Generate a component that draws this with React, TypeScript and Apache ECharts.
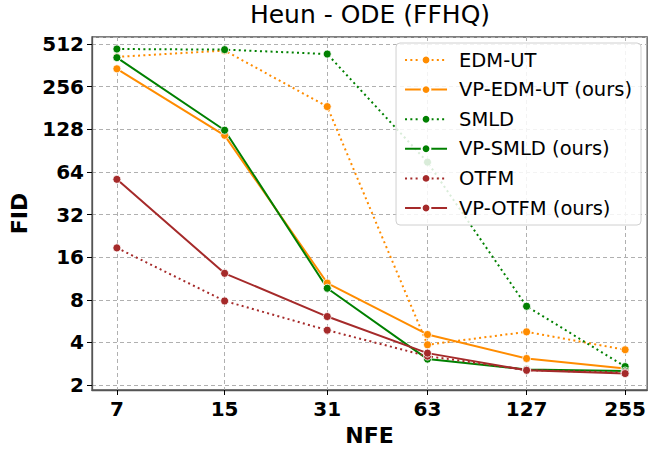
import React, { useEffect, useRef } from "react";
import * as echarts from "echarts";

const NFE = [7, 15, 31, 63, 127, 255];
const Y_TICKS = [2, 4, 8, 16, 32, 64, 128, 256, 512];

const EDM_UT = [415, 460, 185, 3.85, 4.75, 3.55];
const VP_EDM_UT = [342, 116, 10.5, 4.55, 3.08, 2.62];
const SMLD = [472, 467, 435, 75, 7.2, 2.7];
const VP_SMLD = [410, 126, 9.65, 3.05, 2.58, 2.51];
const OTFM = [18.6, 7.85, 4.88, 3.2, 2.55, 2.45];
const VP_OTFM = [56.7, 12.3, 6.09, 3.36, 2.54, 2.41];

const ORANGE = "#ff8c00";
const GREEN = "#008000";
const BROWN = "#a52a2a";

const SERIES = [
  { name: "EDM-UT", data: EDM_UT, color: ORANGE, dotted: true },
  { name: "VP-EDM-UT (ours)", data: VP_EDM_UT, color: ORANGE, dotted: false },
  { name: "SMLD", data: SMLD, color: GREEN, dotted: true },
  { name: "VP-SMLD (ours)", data: VP_SMLD, color: GREEN, dotted: false },
  { name: "OTFM", data: OTFM, color: BROWN, dotted: true },
  { name: "VP-OTFM (ours)", data: VP_OTFM, color: BROWN, dotted: false },
];

const FONT = "DejaVu Sans";

export default function App() {
  const ref = useRef<HTMLDivElement>(null);
  useEffect(() => {
    if (!ref.current) return;
    const chart = echarts.init(ref.current, undefined, { renderer: "svg" });
    const isPow2 = (v: number) => Math.abs(Math.log2(v) - Math.round(Math.log2(v))) < 1e-6;
    chart.setOption({
      animation: false,
      backgroundColor: "#ffffff",
      textStyle: { fontFamily: FONT },
      title: {
        text: "Heun - ODE (FFHQ)",
        left: 370,
        top: 2,
        padding: 0,
        textAlign: "center",
        textStyle: { fontFamily: FONT, fontSize: 25, fontWeight: "normal", color: "#000" },
      },
      grid: {
        left: 92,
        right: 1,
        top: 37,
        bottom: 60,
        show: true,
        borderColor: "#555",
        borderWidth: 1.3,
        backgroundColor: "transparent",
      },
      legend: {
        orient: "vertical",
        right: 8,
        top: 43,
        padding: [7, 9, 7, 8],
        itemGap: 9.6,
        itemWidth: 42,
        itemHeight: 11,
        backgroundColor: "rgba(255,255,255,0.85)",
        borderColor: "#d0d0d0",
        borderWidth: 1,
        borderRadius: 4,
        textStyle: { fontFamily: FONT, fontSize: 19.5, color: "#000", padding: [0, 0, 0, 7], lineHeight: 20 },
        data: SERIES.map((s) => s.name),
      },
      xAxis: {
        type: "log",
        logBase: 2,
        min: 5.87,
        max: 298,
        name: "NFE",
        nameLocation: "middle",
        nameGap: 34,
        nameTextStyle: { fontFamily: FONT, fontSize: 22, fontWeight: "bold", color: "#000" },
        axisLine: { onZero: false, lineStyle: { color: "#555", width: 1.3 } },
        axisTick: { show: true, customValues: NFE, length: 5, lineStyle: { color: "#000" } },
        axisLabel: {
          customValues: NFE,
          fontFamily: FONT,
          fontSize: 20,
          fontWeight: "bold",
          color: "#000",
          margin: 9,
          formatter: (v: number) => String(Math.round(v)),
        },
        splitLine: { show: true, lineStyle: { color: "#b0b0b0", type: [4, 3], width: 1 } },
      },
      yAxis: {
        type: "log",
        logBase: 2,
        min: 1.845,
        max: 573.6,
        name: "FID",
        nameLocation: "middle",
        nameGap: 62,
        nameTextStyle: { fontFamily: FONT, fontSize: 22, fontWeight: "bold", color: "#000" },
        axisLine: { show: true, lineStyle: { color: "#555", width: 1.3 } },
        axisTick: { show: true, length: 5, lineStyle: { color: "#000" } },
        axisLabel: {
          fontFamily: FONT,
          fontSize: 20,
          fontWeight: "bold",
          color: "#000",
          margin: 8,
          showMinLabel: false,
          showMaxLabel: false,
          formatter: (v: number) => (isPow2(v) && Y_TICKS.includes(Math.round(v)) ? String(Math.round(v)) : ""),
        },
        splitLine: { show: true, lineStyle: { color: "#b0b0b0", type: [4, 3], width: 1 } },
      },
      series: SERIES.map((s) => ({
        name: s.name,
        type: "line",
        data: NFE.map((x, i) => [x, s.data[i]]),
        symbol: "circle",
        symbolSize: 8,
        showSymbol: true,
        color: s.color,
        itemStyle: { color: s.color, borderColor: "#ffffff", borderWidth: 0.8 },
        lineStyle: { color: s.color, width: 2, type: s.dotted ? [2, 3.3] : "solid", cap: "butt" },
        emphasis: { disabled: true },
      })),
    });
    return () => chart.dispose();
  }, []);
  return <div ref={ref} style={{ width: 649, height: 451, position: "absolute", left: 0, top: 0 }} />;
}
